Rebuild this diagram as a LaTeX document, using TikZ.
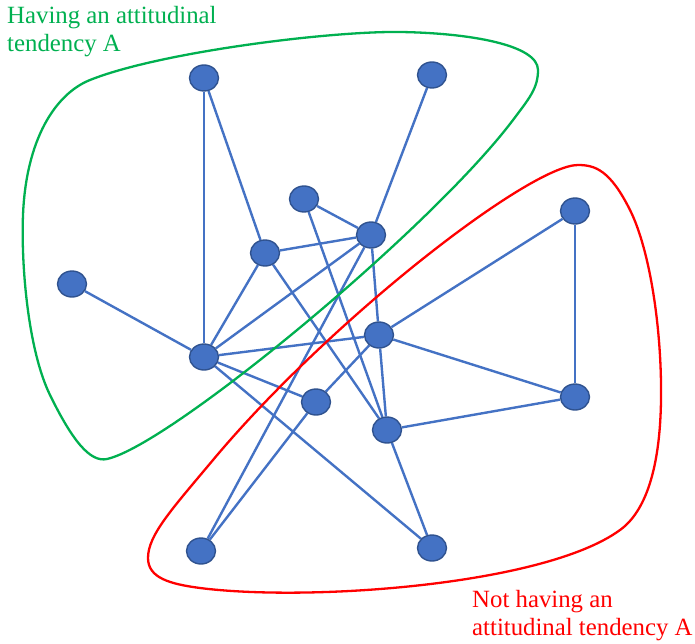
\documentclass[tikz,border=0pt]{standalone}
\usepackage{fontspec}
\setmainfont{Liberation Serif}
\usetikzlibrary{shapes.geometric}
\definecolor{nodeblue}{HTML}{4472C4}
\definecolor{nodeedge}{HTML}{2F528F}
\definecolor{grpgreen}{HTML}{00B050}
\definecolor{grpred}{HTML}{FF0000}
\pgfdeclarelayer{background}
\pgfsetlayers{background,main}
\begin{document}
\begin{tikzpicture}[x=1pt,y=-1pt,
  vtx/.style={ellipse, draw=nodeedge, fill=nodeblue, line width=1.4pt,
    minimum width=29pt, minimum height=26pt, inner sep=0pt},
  link/.style={draw=nodeblue, line width=2.4pt},
  grp/.style={line width=2.3pt},
  lbl/.style={font=\fontsize{24.8}{28.5}\selectfont, align=left, inner sep=0pt, anchor=north west}]
\useasboundingbox (0,0) rectangle (695,644);

% vertices
\node[vtx] (A) at (204,78) {};
\node[vtx] (B) at (432,75) {};
\node[vtx] (C) at (304,199) {};
\node[vtx] (D) at (371,235) {};
\node[vtx] (E) at (265,253) {};
\node[vtx] (F) at (72,284) {};
\node[vtx] (G) at (575,211) {};
\node[vtx] (H) at (379,335) {};
\node[vtx] (I) at (204,357) {};
\node[vtx] (J) at (316,402) {};
\node[vtx] (K) at (387,430) {};
\node[vtx] (L) at (575,397) {};
\node[vtx] (M) at (201,551) {};
\node[vtx] (N) at (432,548) {};

% connectors
\begin{pgfonlayer}{background}
\draw[link] (A) -- (E);
\draw[link] (A) -- (I);
\draw[link] (B) -- (D);
\draw[link] (C) -- (D);
\draw[link] (C) -- (K);
\draw[link] (E) -- (D);
\draw[link] (E) -- (I);
\draw[link] (E) -- (K);
\draw[link] (D) -- (I);
\draw[link] (D) -- (M);
\draw[link] (D) -- (H);
\draw[link] (F) -- (I);
\draw[link] (I) -- (H);
\draw[link] (I) -- (J);
\draw[link] (I) -- (N);
\draw[link] (H) -- (J);
\draw[link] (H) -- (K);
\draw[link] (H) -- (L);
\draw[link] (H) -- (G);
\draw[link] (G) -- (L);
\draw[link] (K) -- (L);
\draw[link] (K) -- (N);
\draw[link] (J) -- (M);
\end{pgfonlayer}

% groups
\draw[grp, draw=grpgreen] (107,459)
  .. controls (170,445) and (430,230) .. (513,120)
  .. controls (529.6,98) and (538,88) .. (538,70)
  .. controls (538,45) and (470,33) .. (400,32)
  .. controls (330,31) and (160,52) .. (90,80)
  .. controls (55,94) and (26,140) .. (23,215)
  .. controls (21,265) and (28,350) .. (50,395)
  .. controls (72,440) and (90,462.8) .. cycle;
\draw[grp, draw=grpred] (578,165)
  .. controls (530,165) and (330,320) .. (213,460)
  .. controls (172,509) and (148,535) .. (148,558)
  .. controls (148,578) and (170,584) .. (200,588)
  .. controls (310,602) and (545,585) .. (620,530)
  .. controls (645,512) and (660,470) .. (661,400)
  .. controls (662,330) and (650,250) .. (630,210)
  .. controls (610,170) and (595,165) .. cycle;

% labels
\node[lbl, text=grpgreen] (tA) at (7,6) {Having an attitudinal\\tendency A};
\node[lbl, text=grpred] (tN) at (472,590) {Not having an\\attitudinal tendency A};
\end{tikzpicture}
\end{document}
